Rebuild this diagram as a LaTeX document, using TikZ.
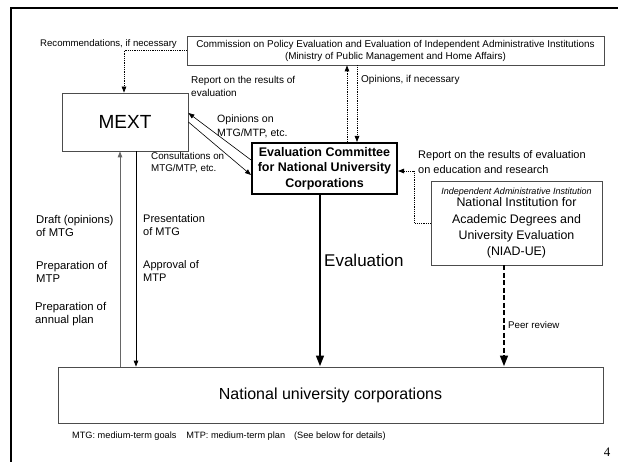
\documentclass[tikz,border=0pt]{standalone}
\usepackage{fontspec}
\setmainfont{Liberation Sans}
\newfontfamily\pagenumfont{Liberation Serif}
\usetikzlibrary{arrows.meta}
\newcommand\fsz[2]{\fontsize{#1}{#2}\selectfont}
\begin{document}
\begin{tikzpicture}[x=1pt,y=-1pt,
  box/.style={draw=black!70, line width=0.8pt, inner sep=0pt, align=center},
  lbl/.style={inner sep=0pt, align=left, anchor=west},
  thinline/.style={line width=0.6pt},
  dotline/.style={line width=0.8pt, dash pattern=on 0.9pt off 0.9pt},
  smalltip/.style={-{Triangle[length=6pt,width=4.5pt]}},
  bigtip/.style={-{Triangle[length=11pt,width=7.5pt]}}
]
\useasboundingbox (0,0) rectangle (618,462);
% frame
\draw[line width=2.5pt] (618,8) -- (11,8) -- (11,462);

% boxes
\node[box, minimum width=417pt, minimum height=29pt, font=\fsz{9.9}{12}] (comm) at (395.5,50.5)
  {Commission on Policy Evaluation and Evaluation of Independent Administrative Institutions\\(Ministry of Public Management and Home Affairs)};
\node[box, minimum width=126pt, minimum height=58pt, font=\fsz{19}{22}] (mext) at (125,122) {MEXT};
\node[draw=black, line width=2pt, inner sep=0pt, align=center, fill=white,
  minimum width=145pt, minimum height=51pt, font=\fsz{12.5}{15.5}\bfseries] (evc) at (324.5,168.5)
  {Evaluation Committee\\for National University\\Corporations};
\node[box, minimum width=171pt, minimum height=84pt] (niad) at (516.5,223) {};
\node[inner sep=0pt, font=\fsz{9}{11}\itshape] (niadi) at (516.5,192) {Independent Administrative Institution};
\node[inner sep=0pt, align=center, font=\fsz{12.4}{16.4}] (niadt) at (516.5,228)
  {National Institution for\\Academic Degrees and\\University Evaluation\\(NIAD-UE)};
\node[box, minimum width=545pt, minimum height=56pt, font=\fsz{16}{19}] (nuc) at (330.5,395) {National university corporations};

% connectors
\draw[dotline, smalltip] (comm.west) -| ([xshift=-1pt]mext.north);
\draw[dotline, smalltip] ([xshift=22.5pt]evc.north) -- ([xshift=22.5pt]evc.north |- comm.south);
\draw[dotline, smalltip] ([xshift=32.5pt]evc.north |- comm.south) -- ([xshift=32.5pt]evc.north);
\draw[thinline, smalltip] ([yshift=8.5pt]evc.west) -- ([yshift=9pt]mext.east);
\draw[thinline, smalltip] (mext.east) -- ([yshift=-6.5pt]evc.west);
\draw[dotline, smalltip] (niad.west) -- ++(-16,0) |- ([yshift=-2.5pt]evc.east);
\draw[line width=2.6pt, bigtip] ([xshift=-4.5pt]evc.south) -- ([xshift=-4.5pt]evc.south |- nuc.north);
\draw[line width=2.6pt, bigtip, dash pattern=on 5pt off 2.5pt] ([xshift=-12.5pt]niad.south) -- ([xshift=-12.5pt]niad.south |- nuc.north);
\draw[line width=0.9pt, draw=black!60, smalltip] ([xshift=-5pt]mext.south |- nuc.north) -- ([xshift=-5pt]mext.south);
\draw[line width=0.8pt, smalltip] ([xshift=11pt]mext.south) -- ([xshift=11pt]mext.south |- nuc.north);

% labels
\node[lbl, font=\fsz{9.6}{11}] (lrec) at (40,44) {Recommendations, if necessary};
\node[lbl, font=\fsz{10}{13}] (lrep) at (191,86.5) {Report on the results of\\evaluation};
\node[lbl, font=\fsz{10}{12}] (lopn) at (361,80) {Opinions, if necessary};
\node[lbl, font=\fsz{10.6}{14}] (lopm) at (217,126) {Opinions on\\MTG/MTP, etc.};
\node[lbl, font=\fsz{9.8}{12}] (lcon) at (151,163) {Consultations on\\MTG/MTP, etc.};
\node[lbl, font=\fsz{11}{15}] (lrer) at (418,162.5) {Report on the results of evaluation\\on education and research};
\node[lbl, font=\fsz{11.3}{13}] (ldra) at (36,225.5) {Draft (opinions)\\of MTG};
\node[lbl, font=\fsz{11.3}{13}] (lpmt) at (36,271.5) {Preparation of\\MTP};
\node[lbl, font=\fsz{11.3}{13.5}] (lpan) at (35,314) {Preparation of\\annual plan};
\node[lbl, font=\fsz{11}{13}] (lpre) at (143,225.5) {Presentation\\of MTG};
\node[lbl, font=\fsz{11}{13}] (lapp) at (143,271.5) {Approval of\\MTP};
\node[lbl, font=\fsz{17}{20}] (leva) at (324,260) {Evaluation};
\node[lbl, font=\fsz{9.7}{12}] (lpee) at (508,325) {Peer review};
\node[lbl, font=\fsz{9.2}{11}] (lfoot) at (72,436) {MTG: medium-term goals\hspace{10pt}MTP: medium-term plan\hspace{9pt}(See below for details)};
\node[inner sep=0pt, font=\pagenumfont\fsz{13}{15}] (pnum) at (607,452) {4};
\end{tikzpicture}
\end{document}
